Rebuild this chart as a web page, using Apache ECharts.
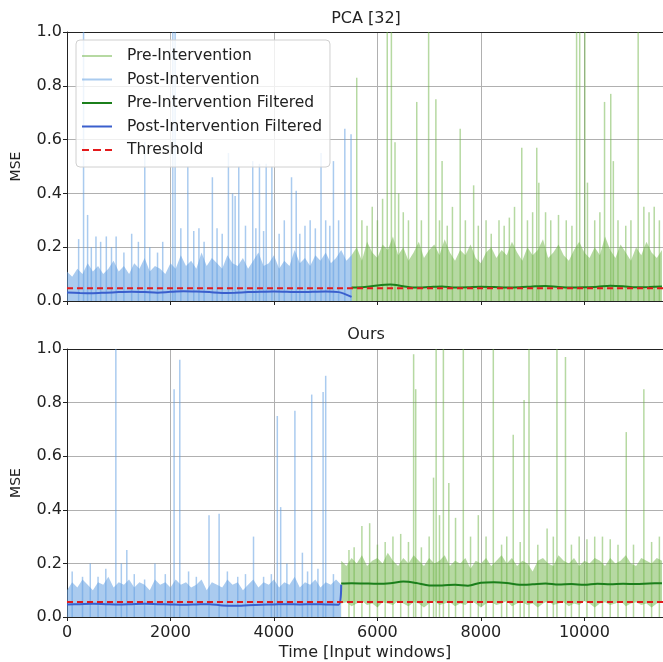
<!DOCTYPE html>
<html>
<head>
<meta charset="utf-8">
<script src="https://cdn.jsdelivr.net/npm/echarts@6/dist/echarts.min.js"></script>
<style>
  html, body { margin: 0; padding: 0; background: #fff; }
  #chart { width: 663px; height: 662px; }
</style>
</head>
<body>
<div id="chart"></div>
<script>
// 数据
var xMax = 11520;
var yTicks = [0, 0.2, 0.4, 0.6, 0.8, 1.0];
var bandStep = 100; // raw band envelope sampled every 100 windows

// top panel: PCA [32]
var postStartA = 0;
var postHighA = [0.11,0.09,0.12,0.10,0.14,0.11,0.13,0.10,0.12,0.15,
  0.11,0.13,0.10,0.14,0.12,0.16,0.11,0.13,0.12,0.10,
  0.14,0.12,0.17,0.13,0.15,0.12,0.18,0.13,0.16,0.14,
  0.12,0.17,0.14,0.13,0.16,0.12,0.15,0.18,0.13,0.14,
  0.17,0.12,0.15,0.13,0.19,0.14,0.16,0.13,0.17,0.15,
  0.18,0.14,0.16,0.19,0.15,0.17];
var preStartA = 5500;
var preHighA = [0.17,0.20,0.15,0.22,0.18,0.16,0.21,0.19,0.24,0.17,
  0.20,0.15,0.18,0.22,0.16,0.19,0.21,0.17,0.23,0.18,
  0.15,0.19,0.17,0.21,0.16,0.14,0.18,0.20,0.16,0.19,
  0.17,0.22,0.18,0.15,0.20,0.17,0.19,0.23,0.16,0.18,
  0.21,0.17,0.15,0.19,0.22,0.18,0.16,0.20,0.17,0.24,
  0.19,0.16,0.21,0.18,0.15,0.20,0.17,0.22,0.18,0.16,
  0.19];
var timeAPostF = [0,250,500,750,1000,1250,1500,1750,2000,2250,2500,2750,3000,3250,3500,3750,4000,4250,4500,4750,5000,5250,5500];
var postFiltA = [0.032,0.030,0.029,0.031,0.033,0.034,0.033,0.031,0.034,0.036,0.035,0.033,0.030,0.031,0.033,0.034,0.035,0.034,0.033,0.034,0.035,0.033,0.015];
var timeAPreF = [5500,5750,6000,6250,6500,6750,7000,7250,7500,7750,8000,8250,8500,8750,9000,9250,9500,9750,10000,10250,10500,10750,11000,11250,11500];
var preFiltA = [0.050,0.052,0.058,0.061,0.055,0.050,0.052,0.054,0.050,0.051,0.053,0.052,0.050,0.051,0.054,0.056,0.052,0.050,0.051,0.053,0.057,0.055,0.051,0.052,0.054];
var thresholdA = 0.047;
var postSpikesA = [[225,0.23],[320,1.0],[398,0.32],[470,0.2],[560,0.24],[650,0.22],[760,0.24],[860,0.2],[950,0.24],[1100,0.18],[1250,0.25],[1380,0.22],[1503,0.59],[1600,0.2],[1750,0.18],[1850,0.22],[2045,1.0],[2090,1.0],[2200,0.27],[2335,0.5],[2450,0.26],[2550,0.27],[2650,0.22],[2810,0.46],[2900,0.27],[3000,0.25],[3120,0.55],[3200,0.40],[3250,0.39],[3320,0.5],[3450,0.28],[3590,0.52],[3650,0.27],[3720,0.51],[3800,0.26],[3850,0.51],[3960,0.5],[4100,0.25],[4200,0.3],[4340,0.46],[4430,0.41],[4500,0.25],[4600,0.28],[4700,0.3],[4800,0.27],[4910,0.55],[5000,0.3],[5080,0.28],[5150,0.52],[5250,0.3],[5370,0.64],[5490,0.62]];
var preSpikesA = [[5600,0.83],[5700,0.3],[5800,0.28],[5900,0.35],[6000,0.3],[6100,0.38],[6190,1.0],[6270,1.0],[6340,0.59],[6410,0.40],[6500,0.33],[6600,0.3],[6760,0.74],[6850,0.3],[6990,1.0],[7130,0.75],[7200,0.3],[7250,0.52],[7350,0.28],[7450,0.35],[7600,0.64],[7700,0.3],[7860,0.43],[7950,0.28],[8100,0.3],[8200,0.25],[8350,0.3],[8450,0.28],[8550,0.31],[8650,0.35],[8790,0.57],[8900,0.3],[9000,0.33],[9080,0.57],[9120,0.44],[9250,0.33],[9350,0.3],[9500,0.32],[9650,0.3],[9760,0.28],[9850,1.0],[9910,1.0],[10010,1.0],[10060,0.44],[10200,0.3],[10300,0.33],[10390,0.74],[10510,0.77],[10560,0.52],[10650,0.3],[10800,0.28],[10900,0.3],[11040,1.0],[11150,0.35],[11250,0.33],[11350,0.35],[11450,0.3]];

// bottom panel: Ours
var postStartB = 0;
var postHighB = [0.10,0.13,0.11,0.14,0.12,0.10,0.13,0.12,0.15,0.11,
  0.13,0.12,0.14,0.11,0.13,0.12,0.10,0.14,0.12,0.13,
  0.11,0.14,0.12,0.13,0.11,0.12,0.14,0.10,0.13,0.12,
  0.11,0.14,0.12,0.13,0.10,0.12,0.14,0.11,0.13,0.12,
  0.14,0.11,0.13,0.12,0.15,0.11,0.13,0.12,0.14,0.11,
  0.13,0.12,0.14,0.12];
var preStartB = 5300;
var preHighB = [0.21,0.19,0.22,0.20,0.23,0.19,0.21,0.22,0.20,0.24,
  0.21,0.19,0.22,0.20,0.23,0.21,0.19,0.22,0.20,0.21,
  0.23,0.19,0.21,0.20,0.22,0.18,0.21,0.20,0.22,0.19,
  0.21,0.23,0.20,0.22,0.19,0.21,0.20,0.17,0.21,0.22,
  0.20,0.19,0.23,0.21,0.20,0.22,0.19,0.21,0.20,0.22,
  0.21,0.19,0.22,0.20,0.21,0.23,0.20,0.19,0.22,0.21,
  0.20,0.22,0.21];
var preLowB = [0.05,0.055,0.04,0.05,0.06,0.045,0.05,0.035,0.055,0.05,
  0.045,0.06,0.05,0.04,0.055,0.05,0.035,0.05,0.06,0.045,
  0.05,0.055,0.04,0.05,0.045,0.06,0.05,0.035,0.05,0.055,
  0.045,0.05,0.06,0.04,0.05,0.055,0.045,0.05,0.035,0.05,
  0.06,0.045,0.05,0.055,0.04,0.05,0.045,0.06,0.05,0.035,
  0.05,0.055,0.045,0.05,0.06,0.04,0.05,0.055,0.045,0.05,
  0.035,0.05,0.055];
var timeBPostF = [0,250,500,750,1000,1250,1500,1750,2000,2250,2500,2750,3000,3250,3500,3750,4000,4250,4500,4750,5000,5250,5300];
var postFiltB = [0.047,0.048,0.049,0.048,0.047,0.048,0.049,0.048,0.047,0.046,0.047,0.048,0.043,0.042,0.044,0.046,0.047,0.048,0.047,0.048,0.047,0.046,0.12];
var timeBPreF = [5300,5500,5750,6000,6250,6500,6750,7000,7250,7500,7750,8000,8250,8500,8750,9000,9250,9500,9750,10000,10250,10500,10750,11000,11250,11500];
var preFiltB = [0.125,0.126,0.125,0.124,0.126,0.132,0.127,0.118,0.118,0.120,0.117,0.128,0.130,0.127,0.120,0.122,0.125,0.121,0.123,0.120,0.124,0.122,0.124,0.123,0.125,0.126];
var thresholdB = 0.056;
var postSpikesB = [[100,0.17],[300,0.15],[450,0.2],[600,0.15],[750,0.18],[944,1.0],[1050,0.2],[1156,0.25],[1300,0.16],[1500,0.14],[1700,0.2],[1900,0.16],[2070,0.85],[2180,0.96],[2350,0.17],[2500,0.15],[2745,0.38],[2940,0.385],[3100,0.17],[3300,0.15],[3450,0.16],[3605,0.30],[3800,0.15],[3950,0.16],[4065,0.75],[4130,0.41],[4250,0.2],[4405,0.77],[4550,0.24],[4650,0.17],[4730,0.83],[4850,0.18],[4950,0.84],[5000,0.90],[5150,0.16]];
var preSpikesB = [[5450,0.25],[5550,0.26],[5700,0.34],[5850,0.35],[6000,0.27],[6150,0.28],[6300,0.30],[6450,0.31],[6600,0.28],[6700,0.98],[6740,0.85],[6850,0.26],[7000,0.3],[7085,0.52],[7135,1.0],[7200,0.38],[7275,1.0],[7380,0.50],[7510,0.37],[7660,1.0],[7800,0.3],[7950,0.38],[8100,0.3],[8240,1.0],[8400,0.27],[8500,0.3],[8625,0.68],[8760,0.28],[8835,0.81],[8930,1.0],[9100,0.27],[9280,0.33],[9400,0.3],[9470,1.0],[9635,0.97],[9750,0.27],[9900,0.3],[10050,0.29],[10200,0.3],[10350,0.3],[10500,0.29],[10650,0.27],[10810,0.69],[10950,0.27],[11150,0.85],[11300,0.28],[11450,0.3]];

var FONT = 'DejaVu Sans';
var BLUE_FILL = 'rgba(100,160,225,0.55)';
var BLUE_SPIKE = 'rgba(100,160,225,0.55)';
var GREEN_FILL = 'rgba(110,180,70,0.5)';
var GREEN_SPIKE = 'rgba(110,180,70,0.5)';
var GREEN_LINE = '#1b7f1b';
var BLUE_LINE = '#3a5fcd';
var RED = '#e31a1c';

function pairs(xs, ys) {
  return xs.map(function (x, i) { return [x, ys[i]]; });
}
// band samples sit at start, start+step, ...
function band(start, ys) {
  return ys.map(function (y, i) { return [start + i * bandStep, y]; });
}

var chart = echarts.init(document.getElementById('chart'));

function xAxes(gi, showLabels) {
  return [{
    type: 'value', gridIndex: gi, min: 0, max: xMax, interval: 2000,
    axisLine: { show: true, onZero: false, lineStyle: { color: '#222', width: 1 } },
    axisTick: { show: true, length: 4, lineStyle: { color: '#222' } },
    axisLabel: { show: showLabels, color: '#222', fontFamily: FONT, fontSize: 16, margin: 8,
      showMaxLabel: false, formatter: function (v) { return String(v); } },
    splitLine: { show: true, lineStyle: { color: '#b0b0b0', width: 1 } },
    name: showLabels ? 'Time [Input windows]' : '',
    nameLocation: 'middle', nameGap: 28,
    nameTextStyle: { color: '#222', fontFamily: FONT, fontSize: 16 }
  }, {
    type: 'value', gridIndex: gi, position: 'top', min: 0, max: xMax,
    axisLine: { show: true, onZero: false, lineStyle: { color: '#222', width: 1 } },
    axisTick: { show: false }, axisLabel: { show: false }, splitLine: { show: false }
  }];
}
function yAxis(gi) {
  return {
    type: 'value', gridIndex: gi, min: yTicks[0], max: yTicks[yTicks.length - 1], interval: 0.2,
    axisLine: { show: true, onZero: false, lineStyle: { color: '#222', width: 1 } },
    axisTick: { show: true, length: 4, lineStyle: { color: '#222' } },
    axisLabel: { color: '#222', fontFamily: FONT, fontSize: 16, margin: 5,
      formatter: function (v) { return v.toFixed(1); } },
    splitLine: { show: true, lineStyle: { color: '#b0b0b0', width: 1 } },
    name: 'MSE', nameLocation: 'middle', nameGap: 44, nameRotate: 90,
    nameTextStyle: { color: '#222', fontFamily: FONT, fontSize: 14 }
  };
}

function panelSeries(p) {
  var base = { xAxisIndex: p.gi * 2, yAxisIndex: p.gi, animation: false, silent: true,
    showSymbol: false, symbol: 'none' };
  var list = [
    Object.assign({}, base, { type: 'line', name: 'Post-Intervention', data: band(p.postStart, p.postHigh),
      lineStyle: { color: BLUE_FILL, width: 0 }, itemStyle: { color: BLUE_FILL },
      areaStyle: { color: BLUE_FILL, opacity: 1, origin: 'start' }, z: 1 }),
    Object.assign({}, base, { type: 'line', name: 'Pre-Intervention', data: band(p.preStart, p.preHigh),
      lineStyle: { color: GREEN_FILL, width: 0 }, itemStyle: { color: GREEN_FILL },
      areaStyle: { color: GREEN_FILL, opacity: 1, origin: 'start' }, z: 1 })
  ];
  if (p.preLow) {
    // white below the lower edge of the green band
    list.push(Object.assign({}, base, { type: 'line', name: '_preLow' + p.gi, data: band(p.preStart, p.preLow),
      lineStyle: { width: 0, opacity: 0 }, areaStyle: { color: '#fff', opacity: 1, origin: 'start' }, z: 2 }));
  }
  list.push(
    Object.assign({}, base, { type: 'bar', name: '_postSpk' + p.gi, data: p.postSpikes, barWidth: 1.5, barGap: '-100%',
      itemStyle: { color: BLUE_SPIKE }, z: 3 }),
    Object.assign({}, base, { type: 'bar', name: '_preSpk' + p.gi, data: p.preSpikes, barWidth: 1.5, barGap: '-100%',
      itemStyle: { color: GREEN_SPIKE }, z: 3 }),
    Object.assign({}, base, { type: 'line', name: 'Pre-Intervention Filtered', data: pairs(p.tPreF, p.preFilt),
      smooth: 0.3, lineStyle: { color: GREEN_LINE, width: 2 }, itemStyle: { color: GREEN_LINE }, z: 4 }),
    Object.assign({}, base, { type: 'line', name: 'Post-Intervention Filtered', data: pairs(p.tPostF, p.postFilt),
      smooth: 0.3, lineStyle: { color: BLUE_LINE, width: 2 }, itemStyle: { color: BLUE_LINE }, z: 4 }),
    Object.assign({}, base, { type: 'line', name: 'Threshold', data: [[0, p.thr], [xMax, p.thr]],
      lineStyle: { color: RED, width: 2, type: [6, 4] }, itemStyle: { color: RED }, z: 5 })
  );
  return list;
}

var series = panelSeries({ gi: 0, postStart: postStartA, postHigh: postHighA, tPostF: timeAPostF, postFilt: postFiltA,
  preStart: preStartA, preHigh: preHighA, tPreF: timeAPreF, preFilt: preFiltA, thr: thresholdA,
  postSpikes: postSpikesA, preSpikes: preSpikesA })
  .concat(panelSeries({ gi: 1, postStart: postStartB, postHigh: postHighB, tPostF: timeBPostF, postFilt: postFiltB,
  preStart: preStartB, preHigh: preHighB, preLow: preLowB, tPreF: timeBPreF, preFilt: preFiltB, thr: thresholdB,
  postSpikes: postSpikesB, preSpikes: preSpikesB }));

var SOLID = 'path://M0,0h30v2h-30z';
var DASHED = 'path://M0,0h7v2h-7z M11,0h8v2h-8z M23,0h7v2h-7z';

var option = {
  backgroundColor: '#fff',
  animation: false,
  grid: [
    { left: 67, top: 32, width: 598, height: 269 },
    { left: 67, top: 349, width: 598, height: 268 }
  ],
  graphic: [
    { type: 'text', x: 366, y: 19, style: { text: 'PCA [32]', font: '16px "DejaVu Sans"', fill: '#222', textAlign: 'center', textVerticalAlign: 'middle' } },
    { type: 'text', x: 366, y: 335, style: { text: 'Ours', font: '16px "DejaVu Sans"', fill: '#222', textAlign: 'center', textVerticalAlign: 'middle' } }
  ],
  legend: {
    data: [
      { name: 'Pre-Intervention', icon: SOLID },
      { name: 'Post-Intervention', icon: SOLID },
      { name: 'Pre-Intervention Filtered', icon: SOLID },
      { name: 'Post-Intervention Filtered', icon: SOLID },
      { name: 'Threshold', icon: DASHED }
    ],
    orient: 'vertical', left: 76, top: 40,
    itemWidth: 30, itemHeight: 2, itemGap: 7.5,
    padding: [8, 8, 9, 6],
    backgroundColor: 'rgba(255,255,255,0.8)', borderColor: '#d0d0d0', borderWidth: 1, borderRadius: 4,
    textStyle: { color: '#222', fontFamily: FONT, fontSize: 15.5, lineHeight: 16, padding: [0, 0, 0, 10] },
    selectedMode: false
  },
  xAxis: xAxes(0, false).concat(xAxes(1, true)),
  yAxis: [yAxis(0), yAxis(1)],
  series: series
};
chart.setOption(option);
</script>
</body>
</html>
